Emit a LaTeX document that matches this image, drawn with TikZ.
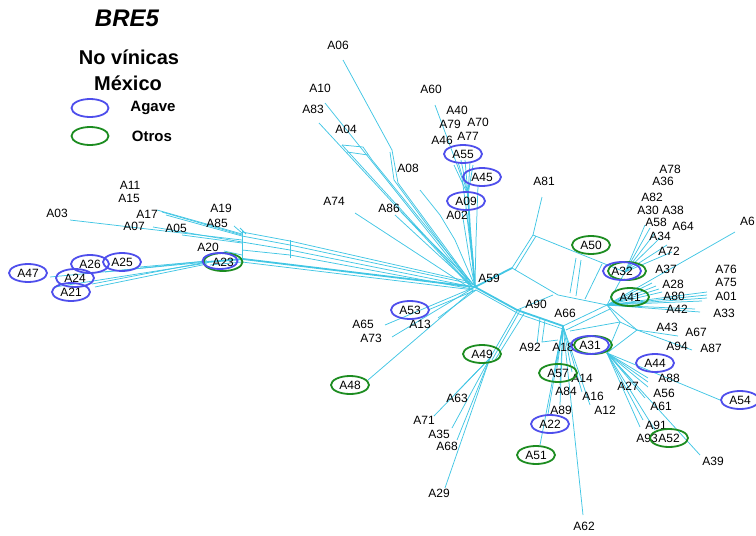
\documentclass[tikz,border=0pt]{standalone}
\usepackage{fontspec}
\setmainfont{Liberation Sans}
\usetikzlibrary{shapes.geometric}

\definecolor{netline}{RGB}{66,198,228}
\definecolor{agaveblue}{RGB}{78,78,236}
\definecolor{otrosgreen}{RGB}{28,140,32}

\begin{document}
\begin{tikzpicture}[x=1pt,y=-1pt,
  net/.style={netline, line width=0.75pt},
  netthick/.style={netline, line width=1.8pt},
  lab/.style={font=\fontsize{12}{13}\selectfont, inner sep=0pt},
  agave/.style={ellipse, draw=agaveblue, line width=1.8pt, minimum width=38pt,
                minimum height=18pt, inner sep=0pt, font=\fontsize{12}{13}\selectfont},
  otros/.style={agave, draw=otrosgreen},
]
\useasboundingbox (0,0) rectangle (756,536);

% junctions of the network
\coordinate (hub) at (475,287);
\coordinate (jA81) at (512,268);
\coordinate (jtop) at (533,235);
\coordinate (jA41) at (607,305);
\coordinate (jA18) at (563,326);
\coordinate (jA31) at (607,353);
\coordinate (jA49) at (490,358);
\coordinate (jA23) at (243,259);
\coordinate (jleft) at (242,236);
\coordinate (jfan) at (468,195);
\coordinate (jA32) at (625,272);
\coordinate (jA43) at (637,330);

% left arm
\draw[netthick] (hub) -- (jA23) -- (207,262);
\draw[net] (474,290) -- (242,262) -- (210,265);
\draw[net] (472,284) -- (290,245) -- (jleft);
\draw[net] (471,282) -- (290,241) -- (242,232);
\draw[net] (473,287) -- (290,250) -- (242,242);
\draw[net] (472,289) -- (290,255) -- (242,250);
\draw[net] (290,240) -- (290,258);
\draw[net] (242,231) -- (242,262);
\draw[net] (242,240) -- (70,220);
\draw[net] (242,234) -- (157,210);
\draw[net] (242,235) -- (162,212);
\draw[net] (242,236) -- (166,215);
\draw[net] (242,242) -- (153,227);
\draw[net] (242,243) -- (182,235);
\draw[net] (242,233) -- (234,226);
\draw[net] (246,234) -- (240,228);
\draw[net] (242,255) -- (224,251);
\draw[net] (207,262) -- (50,277);
\draw[net] (207,263) -- (55,287);
\draw[net] (207,262) -- (92,284);
\draw[net] (207,264) -- (95,287);
\draw[net] (207,261) -- (140,267);
\draw[net] (207,261) -- (105,272);

% upper arm
\draw[net] (343,60) -- (392,150) -- (398,183) -- (473,285);
\draw[net] (390,152) -- (394,180) -- (472,286);
\draw[net] (325,103) -- (470,284);
\draw[net] (319,123) -- (469,285);
\draw[net] (342,145) -- (471,286);
\draw[net] (342,145) -- (363,147) -- (372,160) -- (472,283);
\draw[net] (347,152) -- (368,155);
\draw[net] (355,213) -- (470,288);
\draw[net] (395,215) -- (472,286);
\draw[net] (401,212) -- (474,285);
\draw[net] (420,190) -- (440,215) -- (455,240) -- (474,284);
\draw[net] (435,105) -- (462,178) -- (472,250) -- (hub);
\foreach \x/\y in {454/165, 458/162, 461/160, 465/160, 470/162, 473/165}
  \draw[net] (\x,\y) -- (jfan);
\draw[netthick] (jfan) -- (470,230) -- (hub);
\draw[net] (478,186) -- (476,240) -- (hub);
\draw[net] (466,208) -- (472,260);
\draw[net] (462,212) -- (470,262) -- (hub);

% right arm
\draw[netthick] (hub) -- (jA81);
\draw[net] (jA81) -- (jtop) -- (542,197);
\draw[net] (515,270) -- (536,236);
\draw[net] (jtop) -- (jA32);
\draw[net] (jA81) -- (558,295) -- (jA41);
\draw[net] (576,258) -- (570,293);
\draw[net] (581,260) -- (576,296);
\draw[net] (602,264) -- (585,299);
\draw[netthick] (hub) -- (517,310) -- (540,318) -- (jA18);
\draw[net] (476,290) -- (519,314) -- (542,322) -- (563,329);
\draw[net] (517,310) -- (553,295);
\draw[net] (jA18) -- (jA41);
\draw[net] (566,330) -- (610,309);
\draw[net] (jA41) -- (jA43);
\draw[net] (570,331) -- (620,322) -- (jA43);
\draw[net] (jA41) -- (jA32);
\foreach \x/\y in {645/225, 650/228, 655/233, 660/238, 667/245, 672/252}
  \draw[net] (jA32) -- (\x,\y);
\draw[net] (jA41) -- (735,232);
\foreach \x/\y in {652/283, 656/286, 659/289, 662/292, 707/292, 707/295, 707/298, 702/301, 700/312, 695/309}
  \draw[net] (jA41) -- (\x,\y);
\draw[net] (jA43) -- (678,336);
\draw[net] (jA43) -- (692,350);

% lower right arm
\draw[net] (jA31) -- (620,322) -- (jA41);
\draw[net] (jA31) -- (jA43);
\foreach \x/\y in {648/378, 648/382, 648/387, 720/400, 632/380, 645/398, 643/420, 640/427, 655/430, 700/455}
  \draw[net] (jA31) -- (\x,\y);
\foreach \x/\y in {555/365, 557/368, 560/385, 560/405, 548/414, 540/445, 583/515, 572/372, 582/392, 590/405}
  \draw[net] (jA18) -- (\x,\y);
\draw[net] (540,318) -- (537,344);
\draw[net] (545,320) -- (542,342) -- (558,340);

% lower left arm
\draw[net] (517,311) -- (jA49);
\draw[net] (521,309) -- (492,360);
\draw[net] (525,312) -- (495,360);
\foreach \x/\y in {457/392, 434/416, 452/428, 457/440, 445/488}
  \draw[net] (jA49) -- (\x,\y);
\draw[net] (hub) -- (385,325);
\draw[net] (hub) -- (392,337);
\draw[net] (476,290) -- (428,310);
\draw[net] (476,290) -- (438,318);
\draw[net] (473,290) -- (368,380);

% leaf labels
\foreach \t/\x/\y in {A03/57/213, A11/130/185, A15/129/198, A17/147/214, A07/134/226,
    A05/176/228, A19/221/208, A85/217/223, A20/208/247,
    A06/338/45, A10/320/88, A83/313/109, A04/346/129, A08/408/168, A74/334/201,
    A86/389/208, A60/431/89, A40/457/110, A79/450/124, A70/478/122, A46/442/140,
    A77/468/136, A02/457/215, A81/544/181,
    A78/670/169, A36/663/181, A82/652/197, A30/648/210, A38/673/210, A58/656/222,
    A64/683/226, A34/660/236, A72/669/251, A37/666/269, A28/673/284, A80/674/296,
    A76/726/269, A75/726/282, A01/726/296, A42/677/309, A33/724/313, A43/667/327,
    A67/696/332, A94/677/346, A87/711/348,
    A59/489/278, A90/536/304, A66/565/313, A92/530/347, A18/563/347, A88/669/378,
    A56/664/393, A61/661/406, A27/628/386, A91/656/425, A93/647/438, A39/713/461,
    A14/582/378, A84/566/391, A16/593/396, A12/605/410, A89/561/410, A62/584/526,
    A65/363/324, A13/420/324, A73/371/338, A63/457/398, A71/424/420, A35/439/434,
    A68/447/446, A29/439/493}
  \node[lab] (\t) at (\x,\y) {\t};
\node[lab, anchor=west] (A6) at (740,221) {A6};

% circled labels
\foreach \t/\x/\y in {A26/90/264, A25/122/262, A47/28/273, A24/75/278, A21/71/292,
    A55/463/154, A45/482/177, A09/466/201, A53/410/310, A44/655/363, A54/740/400,
    A22/550/424}
  \node[agave] (\t) at (\x,\y) {\t};
\foreach \t/\x/\y in {A50/591/245, A41/630/297, A49/482/354, A48/350/385,
    A57/558/373, A52/669/438, A51/536/455}
  \node[otros] (\t) at (\x,\y) {\t};
\node[otros, minimum width=39pt] (A23) at (223,262) {A23};
\node[agave, minimum width=35pt, minimum height=16pt] (A23b) at (220,261) {};
\node[otros] (A32b) at (627,271) {};
\node[agave] (A32) at (622,271) {A32};
\node[otros] (A31b) at (593,345) {};
\node[agave] (A31) at (590,345) {A31};

% title and key
\node[font=\bfseries\itshape\fontsize{24}{28}\selectfont] (title) at (127,18) {BRE5};
\node[font=\bfseries\fontsize{20}{24}\selectfont] (sub1) at (129,57) {No vínicas};
\node[font=\bfseries\fontsize{20}{24}\selectfont] (sub2) at (128,83) {México};
\node[agave, minimum width=37pt] (keyA) at (90,108) {};
\node[otros, minimum width=37pt] (keyO) at (90,136) {};
\node[font=\bfseries\fontsize{15}{18}\selectfont] (keyAt) at (153,108) {Agave};
\node[font=\bfseries\fontsize{15}{18}\selectfont] (keyOt) at (152,136) {Otros};
\end{tikzpicture}
\end{document}
